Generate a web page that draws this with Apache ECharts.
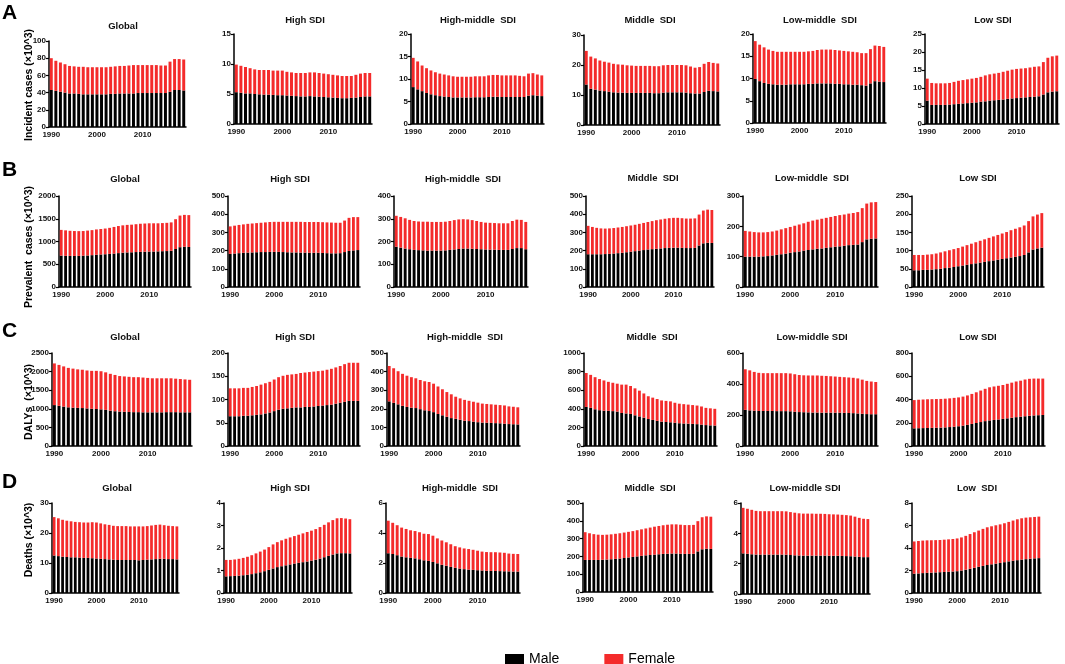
<!DOCTYPE html>
<html>
<head>
<meta charset="utf-8">
<title>Incidence, prevalence, DALYs and deaths by SDI</title>
<script src="https://cdn.jsdelivr.net/npm/echarts@6/dist/echarts.min.js"></script>
<style>
html,body{margin:0;padding:0;background:#fff;}
#main{width:1065px;height:664px;}
</style>
</head>
<body>
<div id="main"></div>
<script>
// years on the x axis
var years = ['1990','1991','1992','1993','1994','1995','1996','1997','1998','1999',
  '2000','2001','2002','2003','2004','2005','2006','2007','2008','2009',
  '2010','2011','2012','2013','2014','2015','2016','2017','2018','2019'];

// A: incident cases (x10^3)
var incGlobalMale = [43,42,41,40,39,39,38.5,38,38,38,38,38,38,38.5,38.5,39,39,39,39,39.5,39.5,39.5,39.5,39.5,39.5,39.5,41,43,43,42.5];
var incGlobalFemale = [37,35,34,33,32,31.5,31.5,32,31.5,31.5,31.5,31.5,31.5,31.5,32,32,32,32.5,33,32.5,32.5,32.5,32.5,32.5,32,32,35,36,36,36];
var incHighMale = [5.3,5.2,5.1,5.1,5.0,4.95,4.9,4.9,4.85,4.8,4.8,4.75,4.7,4.65,4.6,4.6,4.65,4.6,4.55,4.5,4.45,4.4,4.35,4.3,4.3,4.35,4.4,4.5,4.6,4.6];
var incHighFemale = [4.6,4.5,4.4,4.2,4.1,4.05,4.1,4.1,4.05,4.1,4.1,3.95,3.9,3.85,3.9,3.9,3.95,4.0,3.95,3.9,3.85,3.8,3.75,3.7,3.7,3.65,3.8,3.9,3.9,3.9];
var incHighMidMale = [8.2,7.7,7.3,6.9,6.6,6.4,6.2,6.1,6.0,5.9,5.9,5.9,5.9,5.9,5.95,5.95,5.95,6.0,6.05,6.05,6.0,6.0,6.0,6.0,6.0,6.0,6.3,6.4,6.3,6.2];
var incHighMidFemale = [6.5,6.2,5.7,5.5,5.3,5.1,5.0,4.9,4.8,4.7,4.6,4.6,4.6,4.6,4.65,4.65,4.65,4.8,4.85,4.85,4.8,4.8,4.8,4.8,4.7,4.6,4.9,4.9,4.7,4.6];
var incMiddleMale = [13.5,12.1,11.8,11.5,11.3,11.1,10.9,10.8,10.8,10.7,10.7,10.7,10.7,10.7,10.7,10.6,10.6,10.8,10.9,10.9,10.9,10.9,10.8,10.6,10.5,10.5,11.0,11.4,11.3,11.2];
var incMiddleFemale = [11.2,10.7,10.4,10.0,9.8,9.7,9.5,9.4,9.3,9.2,9.1,9.0,9.0,9.0,9.0,9.0,9.0,9.1,9.1,9.1,9.1,9.1,9.1,8.9,8.6,8.8,9.4,9.6,9.4,9.3];
var incLowMidMale = [9.9,9.4,9.0,8.8,8.7,8.6,8.6,8.6,8.7,8.7,8.7,8.7,8.8,8.8,8.9,8.9,8.9,8.9,8.8,8.8,8.7,8.7,8.6,8.6,8.5,8.4,8.9,9.4,9.3,9.2];
var incLowMidFemale = [8.5,8.2,8.0,7.7,7.5,7.4,7.4,7.4,7.3,7.3,7.3,7.3,7.3,7.4,7.5,7.6,7.6,7.6,7.6,7.5,7.5,7.4,7.4,7.3,7.2,7.3,7.7,8.0,8.0,7.9];
var incLowMale = [6.5,5.3,5.3,5.3,5.3,5.4,5.5,5.6,5.7,5.8,5.9,6.0,6.2,6.3,6.5,6.6,6.7,6.8,7.0,7.1,7.2,7.3,7.4,7.5,7.6,7.7,8.2,8.8,9.0,9.1];
var incLowFemale = [6.1,6.1,6.0,6.0,6.0,6.0,6.2,6.4,6.5,6.6,6.7,6.8,6.9,7.2,7.3,7.4,7.5,7.7,7.8,8.0,8.1,8.1,8.1,8.2,8.3,8.3,9.0,9.6,9.8,9.9];

// B: prevalent cases (x10^3)
var prvGlobalMale = [690,685,683,683,683,688,693,700,708,715,720,728,735,745,755,760,763,768,772,775,778,780,783,787,790,795,835,875,885,880];
var prvGlobalFemale = [565,560,552,547,545,542,547,550,557,560,565,572,585,595,600,605,607,612,618,620,622,620,617,618,620,625,655,695,700,700];
var prvHighMale = [182,184,186,188,189,190,191,192,192,193,193,193,192,191,190,190,189,189,188,188,188,187,186,185,185,186,192,198,201,203];
var prvHighFemale = [151,153,155,156,158,159,160,161,163,164,165,165,166,167,168,168,169,168,169,169,169,169,169,169,168,167,173,182,183,181];
var prvHighMidMale = [177,173,169,166,163,162,161,160,160,160,160,161,163,165,167,169,169,168,167,166,165,164,164,163,163,163,167,171,171,166];
var prvHighMidFemale = [136,135,133,129,127,126,126,127,126,126,126,126,127,129,130,129,128,126,123,120,118,118,117,117,117,117,123,125,124,120];
var prvMiddleMale = [180,180,180,180,181,182,184,186,188,191,194,197,200,203,206,208,210,212,214,215,216,216,215,214,214,215,228,240,243,242];
var prvMiddleFemale = [156,150,145,142,140,140,140,141,142,143,144,145,147,149,151,154,157,159,161,163,164,164,163,162,162,162,170,180,182,181];
var prvLowMidMale = [100,100,100,100,101,102,104,106,108,110,113,115,117,120,122,124,126,127,129,131,133,134,136,138,139,140,148,157,159,160];
var prvLowMidFemale = [85,83,81,80,79,79,79,80,82,84,85,87,89,90,93,95,96,98,99,100,101,103,103,104,105,107,112,118,120,120];
var prvLowMale = [46,46,47,47,48,49,50,52,53,55,57,59,61,63,65,67,69,71,73,75,77,79,81,83,85,88,95,103,106,108];
var prvLowFemale = [42,42,41,42,42,43,45,46,48,49,50,52,54,56,58,60,62,64,66,68,70,72,75,77,79,81,86,91,93,95];

// C: DALYs (x10^3)
var dalGlobalMale = [1100,1080,1060,1040,1030,1025,1020,1010,1000,995,985,970,950,935,925,920,915,910,910,905,905,905,905,905,910,910,910,905,905,905];
var dalGlobalFemale = [1120,1100,1080,1060,1050,1035,1030,1020,1020,1025,1025,1010,990,975,955,950,945,940,940,935,925,915,915,915,910,910,900,895,885,875];
var dalHighMale = [64,64,64,65,65,66,67,68,70,72,75,78,80,81,82,83,83,84,84,85,86,87,88,89,91,93,95,97,97,97];
var dalHighFemale = [60,60,60,60,60,61,62,64,65,66,68,70,71,72,72,72,74,74,75,75,75,75,76,77,78,79,81,82,82,82];
var dalHighMidMale = [240,232,224,216,210,206,204,198,192,188,182,172,165,157,150,146,141,136,134,131,128,126,125,124,123,122,120,118,117,116];
var dalHighMidFemale = [190,186,178,172,168,164,160,157,156,156,153,148,140,133,128,119,115,112,109,107,105,102,101,100,99,98,98,95,94,92];
var dalMiddleMale = [420,410,395,385,380,378,375,370,355,350,345,330,318,305,290,280,270,262,258,255,250,245,242,240,238,235,230,225,222,220];
var dalMiddleFemale = [365,355,345,335,325,312,305,300,305,310,300,290,277,260,245,240,235,228,227,225,215,210,208,205,202,200,195,185,183,180];
var dalLowMidMale = [233,230,228,226,226,226,226,225,225,225,224,221,219,218,217,216,216,215,215,215,215,215,214,213,212,210,208,206,205,205];
var dalLowMidFemale = [262,258,250,246,244,244,244,245,245,245,244,242,239,238,238,239,239,238,237,235,233,231,230,229,228,226,220,214,211,208];
var dalLowMale = [152,153,154,155,156,157,158,160,163,166,170,175,182,190,198,206,214,220,224,228,233,238,243,248,252,256,260,263,265,267];
var dalLowFemale = [243,245,246,247,247,247,247,247,247,248,248,250,253,258,264,271,278,285,288,290,292,297,302,307,310,316,318,317,315,313];

// D: deaths (x10^3)
var dthGlobalMale = [12.5,12.3,12.1,12.0,11.9,11.9,11.8,11.7,11.7,11.6,11.5,11.4,11.3,11.2,11.1,11.0,11.0,11.0,11.0,11.0,10.9,11.0,11.1,11.2,11.3,11.4,11.4,11.3,11.3,11.2];
var dthGlobalFemale = [12.8,12.6,12.3,12.1,12.0,11.8,11.8,11.8,11.8,12.0,12.0,11.8,11.6,11.5,11.3,11.3,11.3,11.3,11.2,11.2,11.3,11.2,11.2,11.3,11.4,11.4,11.2,11.1,11.0,11.0];
var dthHighMale = [0.74,0.75,0.76,0.77,0.79,0.81,0.84,0.88,0.92,0.97,1.03,1.09,1.15,1.19,1.23,1.27,1.31,1.34,1.37,1.40,1.44,1.48,1.53,1.59,1.65,1.71,1.76,1.77,1.77,1.76];
var dthHighFemale = [0.73,0.72,0.73,0.75,0.77,0.80,0.84,0.88,0.92,0.96,1.01,1.07,1.11,1.15,1.18,1.20,1.22,1.25,1.28,1.31,1.33,1.36,1.40,1.44,1.49,1.53,1.56,1.56,1.54,1.52];
var dthHighMidMale = [2.65,2.60,2.52,2.43,2.38,2.34,2.31,2.25,2.18,2.14,2.07,1.98,1.88,1.82,1.74,1.68,1.63,1.59,1.56,1.54,1.52,1.50,1.48,1.47,1.47,1.46,1.45,1.44,1.43,1.43];
var dthHighMidFemale = [2.17,2.08,2.00,1.93,1.89,1.84,1.82,1.80,1.77,1.79,1.75,1.66,1.62,1.56,1.51,1.44,1.41,1.38,1.37,1.34,1.30,1.26,1.25,1.25,1.25,1.24,1.23,1.19,1.18,1.17];
var dthMiddleMale = [180,180,180,180,181,182,184,186,188,191,194,197,200,203,206,208,210,212,214,215,216,216,215,214,214,215,228,240,243,242];
var dthMiddleFemale = [156,150,145,142,140,140,140,141,142,143,144,145,147,149,151,154,157,159,161,163,164,164,163,162,162,162,170,180,182,181];
var dthLowMidMale = [2.68,2.65,2.62,2.60,2.60,2.60,2.60,2.60,2.60,2.60,2.59,2.57,2.55,2.54,2.53,2.53,2.53,2.53,2.53,2.53,2.52,2.52,2.52,2.51,2.50,2.49,2.47,2.45,2.43,2.43];
var dthLowMidFemale = [3.00,2.97,2.93,2.88,2.86,2.86,2.86,2.86,2.86,2.86,2.86,2.83,2.81,2.78,2.77,2.77,2.77,2.76,2.76,2.75,2.74,2.73,2.72,2.71,2.70,2.68,2.63,2.57,2.53,2.51];
var dthLowMale = [1.72,1.74,1.77,1.79,1.81,1.83,1.85,1.87,1.89,1.91,1.94,2.00,2.07,2.15,2.24,2.33,2.41,2.49,2.55,2.61,2.67,2.74,2.81,2.87,2.92,2.97,3.01,3.05,3.08,3.10];
var dthLowFemale = [2.86,2.88,2.89,2.89,2.88,2.87,2.86,2.87,2.88,2.89,2.91,2.94,3.01,3.09,3.16,3.22,3.29,3.35,3.38,3.41,3.43,3.46,3.51,3.57,3.63,3.67,3.69,3.68,3.68,3.69];

// titles and axis maxima / steps for each row
var rowLetters = ['A','B','C','D'];
var rowLabels = ['Incident cases (\u00d710^3)','Prevalent  cases (\u00d710^3)','DALYs  (\u00d710^3)','Deaths (\u00d710^3)'];
var rowTitles = [
  ['Global','High SDI','High-middle  SDI','Middle  SDI','Low-middle  SDI','Low SDI'],
  ['Global','High SDI','High-middle  SDI','Middle  SDI','Low-middle  SDI','Low SDI'],
  ['Global','High SDI','High-middle  SDI','Middle  SDI','Low-middle SDI','Low SDI'],
  ['Global','High SDI','High-middle  SDI','Middle  SDI','Low-middle SDI','Low  SDI']
];
var rowMax = [[100,15,20,30,20,25],[2000,500,400,500,300,250],[2500,200,500,1000,600,800],[30,4,6,500,6,8]];
var rowStep = [[20,5,5,10,5,5],[500,100,100,100,100,50],[500,50,100,200,200,200],[10,1,2,100,2,2]];

var maleRows = [
  [incGlobalMale,incHighMale,incHighMidMale,incMiddleMale,incLowMidMale,incLowMale],
  [prvGlobalMale,prvHighMale,prvHighMidMale,prvMiddleMale,prvLowMidMale,prvLowMale],
  [dalGlobalMale,dalHighMale,dalHighMidMale,dalMiddleMale,dalLowMidMale,dalLowMale],
  [dthGlobalMale,dthHighMale,dthHighMidMale,dthMiddleMale,dthLowMidMale,dthLowMale]
];
var femaleRows = [
  [incGlobalFemale,incHighFemale,incHighMidFemale,incMiddleFemale,incLowMidFemale,incLowFemale],
  [prvGlobalFemale,prvHighFemale,prvHighMidFemale,prvMiddleFemale,prvLowMidFemale,prvLowFemale],
  [dalGlobalFemale,dalHighFemale,dalHighMidFemale,dalMiddleFemale,dalLowMidFemale,dalLowFemale],
  [dthGlobalFemale,dthHighFemale,dthHighMidFemale,dthMiddleFemale,dthLowMidFemale,dthLowFemale]
];

// layout (pixels)
var gridTop = [[41,34,34,35,34,34],[196,196,196,196,196,196],[353,353,353,353,353,353],[503,503,503,503,503,503]];
var gridBottom = [[127,124,124,125,123,124],[287,287,287,287,287,287],[446,446,446,446,446,446],[593,593,593,592,594,593]];
var gridLeft = [[49,234,411,584,753,925],[59,228,394,586,743,912],[52,228,387,584,743,912],[52,224,386,583,741,912]];
var gridRight = [[186,372,544,720,886,1059],[191,360,528,714,878,1044],[192,360,520,717,878,1045],[179,352,520,713,870,1041]];
var titleX = [[123,305,478,650,820,993],[125,290,463,653,812,978],[125,295,465,652,812,978],[117,290,460,650,805,977]];
var titleY = [[26,20,20,20,20,20],[179,179,179,178,178,178],[337,337,337,337,337,337],[488,488,488,488,488,488]];
var letterY = [13,170,331,482];
var labelY = [85,247,402,540];

var FONT = 'Liberation Sans, Arial, sans-serif';
var grids = [], xAxes = [], yAxes = [], series = [], graphics = [];

for (var r = 0; r < 4; r++) {
  graphics.push({type:'text', x:2, y:letterY[r],
    style:{text:rowLetters[r], font:'bold 21px ' + FONT, fill:'#000', align:'left', verticalAlign:'middle', textAlign:'left', textVerticalAlign:'middle'}});
  graphics.push({type:'text', x:29, y:labelY[r], rotation:Math.PI/2,
    style:{text:rowLabels[r], font:'bold 10.5px ' + FONT, fill:'#000', align:'center', verticalAlign:'middle', textAlign:'center', textVerticalAlign:'middle'}});
  for (var c = 0; c < 6; c++) {
    var i = r * 6 + c;
    grids.push({left:gridLeft[r][c], top:gridTop[r][c], width:gridRight[r][c]-gridLeft[r][c], height:gridBottom[r][c]-gridTop[r][c]});
    xAxes.push({
      gridIndex:i, type:'category', data:years,
      axisLine:{lineStyle:{color:'#000', width:1.5}},
      axisTick:{show:false},
      axisLabel:{interval:function(idx){ return idx % 10 === 0; }, fontSize:8, fontWeight:'bold', color:'#111', margin:4, fontFamily:FONT}
    });
    yAxes.push({
      gridIndex:i, type:'value', min:0, max:rowMax[r][c], interval:rowStep[r][c],
      axisLine:{show:true, lineStyle:{color:'#000', width:1.5}},
      axisTick:{show:true, length:3, lineStyle:{color:'#000', width:1.2}},
      splitLine:{show:false},
      axisLabel:{fontSize:8, fontWeight:'bold', color:'#111', margin:3, fontFamily:FONT,
        formatter:function(v){ return String(v); }}
    });
    series.push({type:'bar', name:'Male', xAxisIndex:i, yAxisIndex:i, stack:'s' + i,
      data:maleRows[r][c], barCategoryGap:'35%', itemStyle:{color:'#000'}});
    series.push({type:'bar', name:'Female', xAxisIndex:i, yAxisIndex:i, stack:'s' + i,
      data:femaleRows[r][c], barCategoryGap:'35%', itemStyle:{color:'#f42b2b'}});
    graphics.push({type:'text', x:titleX[r][c], y:titleY[r][c],
      style:{text:rowTitles[r][c], font:'bold 9.5px ' + FONT, fill:'#111', align:'center', verticalAlign:'middle', textAlign:'center', textVerticalAlign:'middle'}});
  }
}

var myChart = echarts.init(document.getElementById('main'));
myChart.setOption({
  animation:false,
  backgroundColor:'#fff',
  grid:grids,
  xAxis:xAxes,
  yAxis:yAxes,
  series:series,
  graphic:graphics,
  legend:{
    data:['Male','Female'], left:500, top:647, icon:'rect',
    itemWidth:19, itemHeight:10, itemGap:45,
    textStyle:{fontSize:14, color:'#000', fontFamily:FONT}
  }
});
</script>
</body>
</html>
